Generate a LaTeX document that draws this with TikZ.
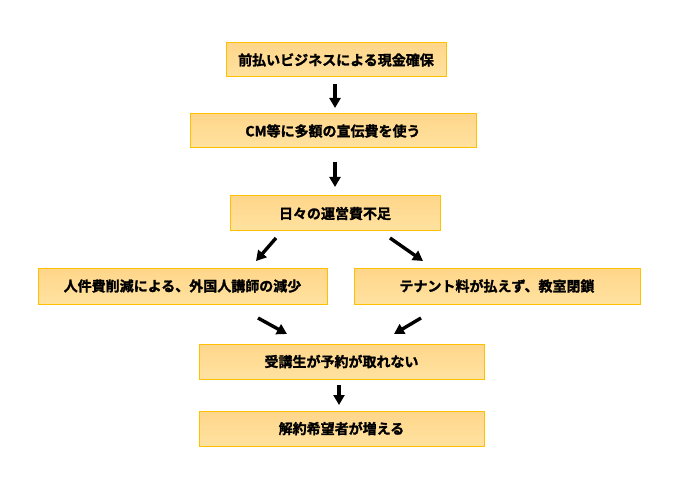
\documentclass[tikz,border=0pt]{standalone}
\usepackage{fontspec}
\newfontfamily\jp[FakeBold=1.5]{Noto Sans CJK JP Bold}
\usetikzlibrary{arrows.meta}
\begin{document}
\begin{tikzpicture}[x=1pt,y=-1pt,
  flowbox/.style={draw={rgb,255:red,255;green,192;blue,0}, line width=1pt,
    top color={rgb,255:red,255;green,214;blue,138}, bottom color={rgb,255:red,255;green,226;blue,160},
    inner sep=0pt, font=\jp\fontsize{14}{15}\selectfont, text=black},
  bigarrow/.style={line width=3.4pt, -{Triangle[length=10pt,width=11pt]}, black}]
\useasboundingbox (0,0) rectangle (696,489);
\node[flowbox, minimum width=220pt, minimum height=34pt] (b1) at (336,60) {前払いビジネスによる現金確保};
\node[flowbox, minimum width=286pt, minimum height=34pt] (b2) at (333,131) {CM等に多額の宣伝費を使う};
\node[flowbox, minimum width=210pt, minimum height=35pt] (b3) at (335,213.5) {日々の運営費不足};
\node[flowbox, minimum width=289pt, minimum height=36pt] (b4) at (182.5,286) {人件費削減による、外国人講師の減少};
\node[flowbox, minimum width=286pt, minimum height=36pt] (b5) at (497,286) {テナント料が払えず、教室閉鎖};
\node[flowbox, minimum width=285pt, minimum height=35pt] (b6) at (341.5,361.5) {受講生が予約が取れない};
\node[flowbox, minimum width=285pt, minimum height=35pt] (b7) at (341.5,428.5) {解約希望者が増える};
\coordinate (a1s) at (335,84); \coordinate (a1e) at (335,108);
\coordinate (a2s) at (335,162); \coordinate (a2e) at (335,187);
\coordinate (a3s) at (276,238); \coordinate (a3e) at (256,261);
\coordinate (a4s) at (390,238); \coordinate (a4e) at (423,261);
\coordinate (a5s) at (258,318); \coordinate (a5e) at (287,334);
\coordinate (a6s) at (421,318); \coordinate (a6e) at (394,334);
\coordinate (a7s) at (339,385); \coordinate (a7e) at (339,405);
\draw[bigarrow] (a1s) -- (a1e);
\draw[bigarrow] (a2s) -- (a2e);
\draw[bigarrow] (a3s) -- (a3e);
\draw[bigarrow] (a4s) -- (a4e);
\draw[bigarrow] (a5s) -- (a5e);
\draw[bigarrow] (a6s) -- (a6e);
\draw[bigarrow] (a7s) -- (a7e);
\end{tikzpicture}
\end{document}
